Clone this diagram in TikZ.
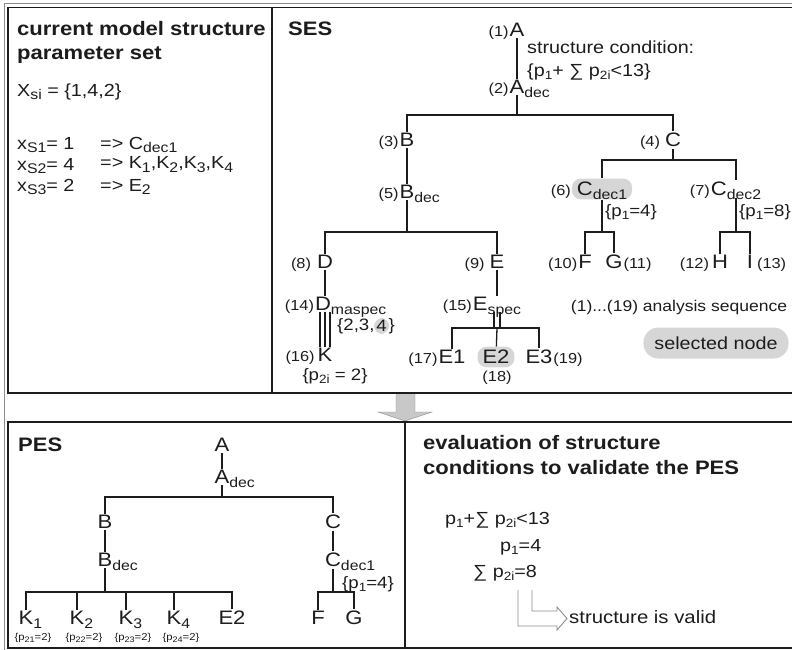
\documentclass[tikz,border=0pt]{standalone}
\usepackage{fontspec}
\setmainfont[FakeStretch=1.13]{Liberation Sans}
\usetikzlibrary{positioning, calc}
\definecolor{inkgray}{RGB}{28,28,28}
\definecolor{selgray}{RGB}{214,214,214}
\definecolor{framegray}{RGB}{140,140,140}
\definecolor{arrowgray}{RGB}{200,200,200}

\newcommand{\fs}[1]{\fontsize{#1}{#1}\selectfont}
\newcommand{\dn}[2][14]{\smash{\raisebox{-0.35ex}{\fs{#1}#2}}}
\newcommand{\dnr}[2][14]{\rlap{\dn[#1]{#2}}}
\newcommand{\sq}[2][1pt]{\llap{\smash{\fs{14.5}(#2)\kern#1}}}
\newcommand{\sqr}[2][1pt]{\rlap{\smash{\kern#1\fs{14.5}(#2)}}}

\begin{document}
\begin{tikzpicture}[x=1pt, y=-1pt,
    every node/.style={text=inkgray},
    tn/.style={font=\fs{19.5}, inner sep=1.5pt},
    link/.style={line width=1.3pt, inkgray},
    note/.style={font=\fs{16.5}, inner sep=0pt, anchor=west},
    txt/.style={font=\fs{17.5}, inner sep=0pt, anchor=west},
    head/.style={font=\fs{19.5}\bfseries, inner sep=0pt, anchor=base west},
    tiny/.style={font=\fs{10}, inner sep=0pt},
    sel/.style={fill=selgray, rounded corners=9pt, inner xsep=5pt, inner ysep=3.5pt},
    panel/.style={line width=1.5pt, inkgray}]
    \useasboundingbox (0,0) rectangle (792,650);

    % frames
    \draw[framegray, line width=1.2pt] (4.5,650) -- (4.5,3.5) -- (792,3.5);
    \draw[framegray, fill=arrowgray] (396,393) -- (396,412) -- (378,412) -- (405,421)
        -- (432,412) -- (415,412) -- (415,393);
    \draw[panel] (800,7.5) -- (8,7.5) -- (8,393) -- (800,393);
    \draw[panel] (800,422) -- (8,422) -- (8,648) -- (800,648);
    \draw[panel] (272,7.5) -- (272,393);
    \draw[panel] (405,422) -- (405,648);

    % parameter set
    \node[head] (title1) at (17,36) {current model structure};
    \node[head] (title2) at (17,60) {parameter set};
    \node[txt] (xsi) at (17,92) {X\dn{si} = \{1,4,2\}};
    \node[txt] (xs1) at (17,143) {x\dn{S1}= 1};
    \node[txt] (to1) at (100,143) {=> C\dn{dec1}};
    \node[txt] (xs2) at (17,164) {x\dn{S2}= 4};
    \node[txt] (to2) at (100,164) {=> K\dn{1},K\dn{2},K\dn{3},K\dn{4}};
    \node[txt] (xs3) at (17,185) {x\dn{S3}= 2};
    \node[txt] (to3) at (100,185) {=> E\dn{2}};

    % SES
    \node[head] (ses) at (288,36) {SES};
    \node[tn] (a) at (517,30) {\sq{1}A};
    \node[tn] (adec) at (517,87) {\sq{2}A\dnr{dec}};
    \node[txt] (cond1) at (527,47) {structure condition:};
    \node[txt] (cond2) at (527,72) {\{p\dn[12]{1}+ ∑ p\dn[12]{2i}<13\}};
    \coordinate (f1) at (517,115);
    \node[tn] (b) at (407,140) {\sq{3}B};
    \node[tn] (c) at (673,140) {\sq[5pt]{4}C};
    \draw[link] (a) -- (adec);
    \draw[link] (adec) -- (f1);
    \draw[link] (b) |- (f1) -| (c);

    \node[tn] (bdec) at (407,192) {\sq{5}B\dnr{dec}};
    \draw[link] (b) -- (bdec);
    \coordinate (f2) at (407,232);
    \node[tn] (d) at (325,262) {\sq[6pt]{8}D};
    \node[tn] (e) at (497,262) {\sq[5pt]{9}E};
    \draw[link] (bdec) -- (f2);
    \draw[link] (d) |- (f2) -| (e);

    \node[tn] (dmaspec) at (323,304) {\sq{14}D\dnr{maspec}};
    \node[tn] (k) at (325,355) {\sq[3pt]{16}K};
    \draw[link] (d) -- (d |- dmaspec.north);
    \foreach \dx in {-5,0,5}
        \draw[link] ([xshift=\dx pt]k.north |- dmaspec.south) -- ([xshift=\dx pt]k.north);
    \node[note] (setl) at (337,326) {\{2,3,};
    \node[note, sel, inner sep=2.5pt, right=-1pt of setl] (four) {4};
    \node[note, right=-1pt of four] (setr) {\}};
    \node[font=\fs{16.5}, inner sep=0pt] (pk) at (335,376) {\{p\dn[12]{2i} = 2\}};

    \node[tn] (espec) at (497,304) {\sq{15}E\dn{spec}};
    \draw[link] (e) -- (espec);
    \coordinate (f3) at (497,328);
    \foreach \dx in {-3,3}
        \draw[link] ([xshift=\dx pt]espec.south) -- ([xshift=\dx pt]espec.south |- f3);
    \node[tn] (e1) at (452,357) {\sq{17}E1};
    \node[tn, sel] (e2) at (496,357) {E2};
    \node[tn] (e3) at (539,357) {E3\sqr{19}};
    \node[font=\fs{14.5}, inner sep=0pt] (n18) at (497,378) {(18)};
    \draw[link] (e1) |- (f3) -| (e3);
    \draw[link] (f3) -- (e2);

    \coordinate (f4) at (673,160);
    \node[tn, sel] (cdec1) at (602,189) {\sq[6pt]{6}C\dn{dec1}};
    \node[tn] (cdec2) at (736,189) {\sq{7}C\dn{dec2}};
    \draw[link] (c) -- (f4);
    \draw[link] (cdec1) |- (f4) -| (cdec2);
    \node[note] (pc1) at (605,212) {\{p\dn[12]{1}=4\}};
    \node[note] (pc2) at (739,212) {\{p\dn[12]{1}=8\}};

    \coordinate (f5) at (602,232);
    \node[tn] (ff) at (585,262) {\sq{10}F};
    \node[tn] (gg) at (614,262) {G\sqr{11}};
    \draw[link] (cdec1) -- (f5);
    \draw[link] (ff) |- (f5) -| (gg);
    \coordinate (f6) at (736,232);
    \node[tn] (hh) at (720,262) {\sq[3pt]{12}H};
    \node[tn] (ii) at (750,262) {I\sqr[4pt]{13}};
    \draw[link] (cdec2) -- (f6);
    \draw[link] (hh) |- (f6) -| (ii);

    \node[font=\fs{15.5}, inner sep=0pt] (seq) at (679,307) {(1)...(19) analysis sequence};
    \node[sel, font=\fs{17.5}, minimum height=31pt, inner xsep=11pt, rounded corners=15pt]
        (selnode) at (716,343) {selected node};

    % PES
    \node[head] (pes) at (18,451) {PES};
    \node[tn] (pa) at (222,445) {A};
    \node[tn] (padec) at (222,477) {A\dnr{dec}};
    \coordinate (pf1) at (222,497);
    \node[tn] (pb) at (105,522) {B};
    \node[tn] (pc) at (333,522) {C};
    \draw[link] (pa) -- (padec);
    \draw[link] (padec) -- (pf1);
    \draw[link] (pb) |- (pf1) -| (pc);

    \node[tn] (pbdec) at (105,560) {B\dnr{dec}};
    \node[tn] (pcdec) at (333,560) {C\dnr{dec1}};
    \node[note] (ppc1) at (342,584) {\{p\dn[12]{1}=4\}};
    \draw[link] (pb) -- (pbdec);
    \draw[link] (pc) -- (pcdec);

    \coordinate (pf2) at (105,592);
    \foreach \i/\x in {1/26, 2/77, 3/126, 4/174} {
        \node[tn] (k\i) at (\x,618) {K\dnr{\i}};
        \node[tiny] (pk\i) at (\x+7,638) {\{p\dn[8]{2\i}=2\}};
    }
    \node[tn] (pe2) at (232,618) {E2};
    \draw[link] (pbdec) -- (pf2);
    \draw[link] (k1) |- (pf2) -| (pe2);
    \foreach \i in {2,3,4}
        \draw[link] (k\i) -- (k\i |- pf2);

    \coordinate (pf3) at (333,592);
    \node[tn] (pf) at (318,618) {F};
    \node[tn] (pg) at (354,618) {G};
    \draw[link] (pcdec) -- (pf3);
    \draw[link] (pf) |- (pf3) -| (pg);

    % evaluation
    \node[head] (ev1) at (423,449) {evaluation of structure};
    \node[head] (ev2) at (423,474) {conditions to validate the PES};
    \node[txt] (cond) at (445,520) {p\dn[12]{1}+∑ p\dn[12]{2i}<13};
    \node[txt] (pone) at (500,547) {p\dn[12]{1}=4};
    \node[txt] (psum) at (473,573) {∑ p\dn[12]{2i}=8};
    \draw[framegray, line width=0.9pt] (518,590) -- (518,626) -- (557,626) -- (557,630)
        -- (567,618.5) -- (557,607) -- (557,611) -- (532,611) -- (532,590);
    \node[txt, font=\fs{18}] (valid) at (569,617) {structure is valid};
\end{tikzpicture}
\end{document}
